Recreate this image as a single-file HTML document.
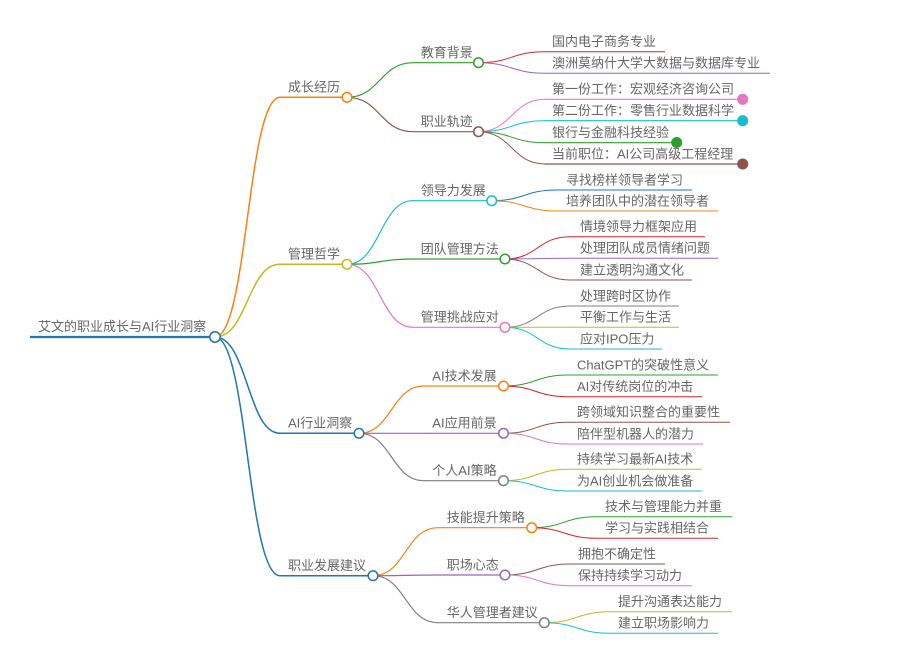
<!DOCTYPE html>
<html><head><meta charset="utf-8"><style>
html,body{margin:0;padding:0;background:#fff;width:914px;height:657px;overflow:hidden}
svg text{font-family:"Liberation Sans","Noto Sans CJK SC",sans-serif;font-size:13px;fill:#666}
path{fill:none}
</style></head><body>
<svg width="914" height="657" viewBox="0 0 914 657" xmlns="http://www.w3.org/2000/svg">
<g stroke-linecap="round">
<path d="M215,337 C247.5,337 247.5,97.3 280,97.3" stroke="#ff7f0e" stroke-width="1.5"/>
<path d="M215,337 C247.5,337 247.5,264.3 280,264.3" stroke="#bcbd22" stroke-width="1.5"/>
<path d="M215,337 C247.5,337 247.5,433.3 280,433.3" stroke="#1f77b4" stroke-width="1.5"/>
<path d="M215,337 C247.5,337 247.5,575.7 280,575.7" stroke="#1f77b4" stroke-width="1.5"/>

<path d="M347,97.3 C380,97.3 380,62.7 413,62.7" stroke="#2ca02c" stroke-width="1.2"/>
<path d="M347,97.3 C380,97.3 380,131.7 413,131.7" stroke="#8c564b" stroke-width="1.2"/>
<path d="M347,264.3 C380,264.3 380,200.7 413,200.7" stroke="#17becf" stroke-width="1.2"/>
<path d="M347,264.3 C380,264.3 380,259 413,259" stroke="#2ca02c" stroke-width="1.2"/>
<path d="M347,264.3 C380,264.3 380,327.3 413,327.3" stroke="#e377c2" stroke-width="1.2"/>
<path d="M359,433.3 C391.5,433.3 391.5,386 424,386" stroke="#ff7f0e" stroke-width="1.2"/>
<path d="M359,433.3 C391.5,433.3 391.5,433.3 424,433.3" stroke="#9467bd" stroke-width="1.2"/>
<path d="M359,433.3 C391.5,433.3 391.5,480.7 424,480.7" stroke="#7f7f7f" stroke-width="1.2"/>
<path d="M373,575.7 C405.5,575.7 405.5,527.7 438,527.7" stroke="#ff7f0e" stroke-width="1.2"/>
<path d="M373,575.7 C405.5,575.7 405.5,575 438,575" stroke="#9467bd" stroke-width="1.2"/>
<path d="M373,575.7 C405.5,575.7 405.5,622.7 438,622.7" stroke="#7f7f7f" stroke-width="1.2"/>

<path d="M478.5,62.7 C511.75,62.7 511.75,51.7 545,51.7" stroke="#d62728" stroke-width="1"/>
<path d="M478.5,62.7 C511.75,62.7 511.75,73.3 545,73.3" stroke="#9467bd" stroke-width="1"/>
<path d="M478.5,131.7 C511.75,131.7 511.75,99.3 545,99.3" stroke="#e377c2" stroke-width="1"/>
<path d="M478.5,131.7 C511.75,131.7 511.75,120.7 545,120.7" stroke="#17becf" stroke-width="1"/>
<path d="M478.5,131.7 C511.75,131.7 511.75,142.7 545,142.7" stroke="#2ca02c" stroke-width="1"/>
<path d="M478.5,131.7 C511.75,131.7 511.75,164 545,164" stroke="#8c564b" stroke-width="1"/>

<path d="M491.7,200.7 C524.3,200.7 524.3,190 557,190" stroke="#1f77b4" stroke-width="1"/>
<path d="M491.7,200.7 C524.3,200.7 524.3,211 557,211" stroke="#ff7f0e" stroke-width="1"/>

<path d="M505,259 C537.5,259 537.5,236.7 570,236.7" stroke="#d62728" stroke-width="1"/>
<path d="M505,259 C537.5,259 537.5,258.3 570,258.3" stroke="#9467bd" stroke-width="1"/>
<path d="M505,259 C537.5,259 537.5,280 570,280" stroke="#8c564b" stroke-width="1"/>

<path d="M505,327.3 C537.5,327.3 537.5,306 570,306" stroke="#7f7f7f" stroke-width="1"/>
<path d="M505,327.3 C537.5,327.3 537.5,327.3 570,327.3" stroke="#bcbd22" stroke-width="1"/>
<path d="M505,327.3 C537.5,327.3 537.5,349 570,349" stroke="#17becf" stroke-width="1"/>

<path d="M503.5,386 C535.75,386 535.75,375 568,375" stroke="#2ca02c" stroke-width="1"/>
<path d="M503.5,386 C535.75,386 535.75,396.7 568,396.7" stroke="#d62728" stroke-width="1"/>
<path d="M503.5,433.3 C535.75,433.3 535.75,422.3 568,422.3" stroke="#8c564b" stroke-width="1"/>
<path d="M503.5,433.3 C535.75,433.3 535.75,444 568,444" stroke="#e377c2" stroke-width="1"/>
<path d="M503.5,480.7 C535.75,480.7 535.75,469.3 568,469.3" stroke="#bcbd22" stroke-width="1"/>
<path d="M503.5,480.7 C535.75,480.7 535.75,491 568,491" stroke="#17becf" stroke-width="1"/>

<path d="M531.7,527.7 C564.3,527.7 564.3,516.7 597,516.7" stroke="#2ca02c" stroke-width="1"/>
<path d="M531.7,527.7 C564.3,527.7 564.3,538.3 597,538.3" stroke="#d62728" stroke-width="1"/>
<path d="M505,575 C537.5,575 537.5,564 570,564" stroke="#8c564b" stroke-width="1"/>
<path d="M505,575 C537.5,575 537.5,585.7 570,585.7" stroke="#e377c2" stroke-width="1"/>
<path d="M544.3,622.7 C577.2,622.7 577.2,611.7 610,611.7" stroke="#bcbd22" stroke-width="1"/>
<path d="M544.3,622.7 C577.2,622.7 577.2,633.3 610,633.3" stroke="#17becf" stroke-width="1"/>
</g>

<g>
<line x1="30" y1="337" x2="215" y2="337" stroke="#1f77b4" stroke-width="2.2"/>
<line x1="280" y1="97.3" x2="347" y2="97.3" stroke="#ff7f0e" stroke-width="1.5"/>
<line x1="280" y1="264.3" x2="347" y2="264.3" stroke="#bcbd22" stroke-width="1.5"/>
<line x1="280" y1="433.3" x2="359" y2="433.3" stroke="#1f77b4" stroke-width="1.5"/>
<line x1="280" y1="575.7" x2="373" y2="575.7" stroke="#1f77b4" stroke-width="1.5"/>

<line x1="413" y1="62.7" x2="478.5" y2="62.7" stroke="#2ca02c" stroke-width="1.2"/>
<line x1="413" y1="131.7" x2="478.5" y2="131.7" stroke="#8c564b" stroke-width="1.2"/>
<line x1="413" y1="200.7" x2="491.7" y2="200.7" stroke="#17becf" stroke-width="1.2"/>
<line x1="413" y1="259" x2="505" y2="259" stroke="#2ca02c" stroke-width="1.2"/>
<line x1="413" y1="327.3" x2="505" y2="327.3" stroke="#e377c2" stroke-width="1.2"/>
<line x1="424" y1="386" x2="503.5" y2="386" stroke="#ff7f0e" stroke-width="1.2"/>
<line x1="424" y1="433.3" x2="503.5" y2="433.3" stroke="#9467bd" stroke-width="1.2"/>
<line x1="424" y1="480.7" x2="503.5" y2="480.7" stroke="#7f7f7f" stroke-width="1.2"/>
<line x1="438" y1="527.7" x2="531.7" y2="527.7" stroke="#ff7f0e" stroke-width="1.2"/>
<line x1="438" y1="575" x2="505" y2="575" stroke="#9467bd" stroke-width="1.2"/>
<line x1="438" y1="622.7" x2="544.3" y2="622.7" stroke="#7f7f7f" stroke-width="1.2"/>

<line x1="545" y1="51.7" x2="665" y2="51.7" stroke="#d62728" stroke-width="1"/>
<line x1="545" y1="73.3" x2="770" y2="73.3" stroke="#9467bd" stroke-width="1"/>
<line x1="545" y1="99.3" x2="742.7" y2="99.3" stroke="#e377c2" stroke-width="1.2"/>
<line x1="545" y1="120.7" x2="742.7" y2="120.7" stroke="#17becf" stroke-width="1.2"/>
<line x1="545" y1="142.7" x2="676.7" y2="142.7" stroke="#2ca02c" stroke-width="1.2"/>
<line x1="545" y1="164" x2="742.7" y2="164" stroke="#8c564b" stroke-width="1.2"/>
<line x1="557" y1="190" x2="692" y2="190" stroke="#1f77b4" stroke-width="1"/>
<line x1="557" y1="211" x2="718" y2="211" stroke="#ff7f0e" stroke-width="1"/>
<line x1="570" y1="236.7" x2="705" y2="236.7" stroke="#d62728" stroke-width="1"/>
<line x1="570" y1="258.3" x2="718" y2="258.3" stroke="#9467bd" stroke-width="1"/>
<line x1="570" y1="280" x2="692" y2="280" stroke="#8c564b" stroke-width="1"/>
<line x1="570" y1="306" x2="679" y2="306" stroke="#7f7f7f" stroke-width="1"/>
<line x1="570" y1="327.3" x2="679" y2="327.3" stroke="#bcbd22" stroke-width="1"/>
<line x1="570" y1="349" x2="662" y2="349" stroke="#17becf" stroke-width="1"/>
<line x1="568" y1="375" x2="718" y2="375" stroke="#2ca02c" stroke-width="1"/>
<line x1="568" y1="396.7" x2="702" y2="396.7" stroke="#d62728" stroke-width="1"/>
<line x1="568" y1="422.3" x2="730" y2="422.3" stroke="#8c564b" stroke-width="1"/>
<line x1="568" y1="444" x2="703" y2="444" stroke="#e377c2" stroke-width="1"/>
<line x1="568" y1="469.3" x2="702" y2="469.3" stroke="#bcbd22" stroke-width="1"/>
<line x1="568" y1="491" x2="702" y2="491" stroke="#17becf" stroke-width="1"/>
<line x1="597" y1="516.7" x2="732" y2="516.7" stroke="#2ca02c" stroke-width="1"/>
<line x1="597" y1="538.3" x2="718" y2="538.3" stroke="#d62728" stroke-width="1"/>
<line x1="570" y1="564" x2="665" y2="564" stroke="#8c564b" stroke-width="1"/>
<line x1="570" y1="585.7" x2="692" y2="585.7" stroke="#e377c2" stroke-width="1"/>
<line x1="610" y1="611.7" x2="732" y2="611.7" stroke="#bcbd22" stroke-width="1"/>
<line x1="610" y1="633.3" x2="718" y2="633.3" stroke="#17becf" stroke-width="1"/>
</g>

<g stroke-width="1.5" fill="#fff">
<circle cx="215" cy="337" r="5.2" stroke="#1f77b4"/>
<circle cx="347" cy="97.3" r="4.8" stroke="#ff7f0e"/>
<circle cx="347" cy="264.3" r="4.8" stroke="#bcbd22"/>
<circle cx="359" cy="433.3" r="4.8" stroke="#1f77b4"/>
<circle cx="373" cy="575.7" r="4.8" stroke="#1f77b4"/>
<circle cx="478.5" cy="62.7" r="4.8" stroke="#2ca02c"/>
<circle cx="478.5" cy="131.7" r="4.8" stroke="#8c564b"/>
<circle cx="491.7" cy="200.7" r="4.8" stroke="#17becf"/>
<circle cx="505" cy="259" r="4.8" stroke="#2ca02c"/>
<circle cx="505" cy="327.3" r="4.8" stroke="#e377c2"/>
<circle cx="503.5" cy="386" r="4.8" stroke="#ff7f0e"/>
<circle cx="503.5" cy="433.3" r="4.8" stroke="#9467bd"/>
<circle cx="503.5" cy="480.7" r="4.8" stroke="#7f7f7f"/>
<circle cx="531.7" cy="527.7" r="4.8" stroke="#ff7f0e"/>
<circle cx="505" cy="575" r="4.8" stroke="#9467bd"/>
<circle cx="544.3" cy="622.7" r="4.8" stroke="#7f7f7f"/>
</g>
<g stroke-width="1.5">
<circle cx="742.7" cy="99.3" r="4.8" stroke="#e377c2" fill="#e377c2"/>
<circle cx="742.7" cy="120.7" r="4.8" stroke="#17becf" fill="#17becf"/>
<circle cx="676.7" cy="142.5" r="4.8" stroke="#2ca02c" fill="#2ca02c"/>
<circle cx="742.7" cy="164" r="4.8" stroke="#8c564b" fill="#8c564b"/>
</g>

<g>
<text x="38" y="331">艾文的职业成长与AI行业洞察</text>
<text x="288" y="91.5">成长经历</text>
<text x="288" y="258.5">管理哲学</text>
<text x="288" y="427.5">AI行业洞察</text>
<text x="288" y="570">职业发展建议</text>

<text x="420.7" y="57">教育背景</text>
<text x="420.7" y="126">职业轨迹</text>
<text x="420.7" y="195">领导力发展</text>
<text x="420.7" y="253.3">团队管理方法</text>
<text x="420.7" y="321.5">管理挑战应对</text>
<text x="432.3" y="380.3">AI技术发展</text>
<text x="432.3" y="427.6">AI应用前景</text>
<text x="432.3" y="475">个人AI策略</text>
<text x="446.7" y="522">技能提升策略</text>
<text x="446.7" y="569.3">职场心态</text>
<text x="446.7" y="617">华人管理者建议</text>

<text x="552" y="46">国内电子商务专业</text>
<text x="552" y="67.6">澳洲莫纳什大学大数据与数据库专业</text>
<text x="552" y="93.6">第一份工作：宏观经济咨询公司</text>
<text x="552" y="115">第二份工作：零售行业数据科学</text>
<text x="552" y="137">银行与金融科技经验</text>
<text x="552" y="158.3">当前职位：AI公司高级工程经理</text>

<text x="566" y="184.3">寻找榜样领导者学习</text>
<text x="566" y="205.3">培养团队中的潜在领导者</text>
<text x="580" y="231">情境领导力框架应用</text>
<text x="580" y="252.6">处理团队成员情绪问题</text>
<text x="580" y="274.3">建立透明沟通文化</text>
<text x="580" y="300.3">处理跨时区协作</text>
<text x="580" y="321.6">平衡工作与生活</text>
<text x="580" y="343.3">应对IPO压力</text>

<text x="577" y="369.3">ChatGPT的突破性意义</text>
<text x="577" y="391">AI对传统岗位的冲击</text>
<text x="577" y="416.6">跨领域知识整合的重要性</text>
<text x="577" y="438.3">陪伴型机器人的潜力</text>
<text x="577" y="463.6">持续学习最新AI技术</text>
<text x="577" y="485.3">为AI创业机会做准备</text>

<text x="605" y="511">技术与管理能力并重</text>
<text x="605" y="532.6">学习与实践相结合</text>
<text x="578" y="558.3">拥抱不确定性</text>
<text x="578" y="580">保持持续学习动力</text>
<text x="618" y="606">提升沟通表达能力</text>
<text x="618" y="627.6">建立职场影响力</text>
</g>
</svg>
</body></html>
